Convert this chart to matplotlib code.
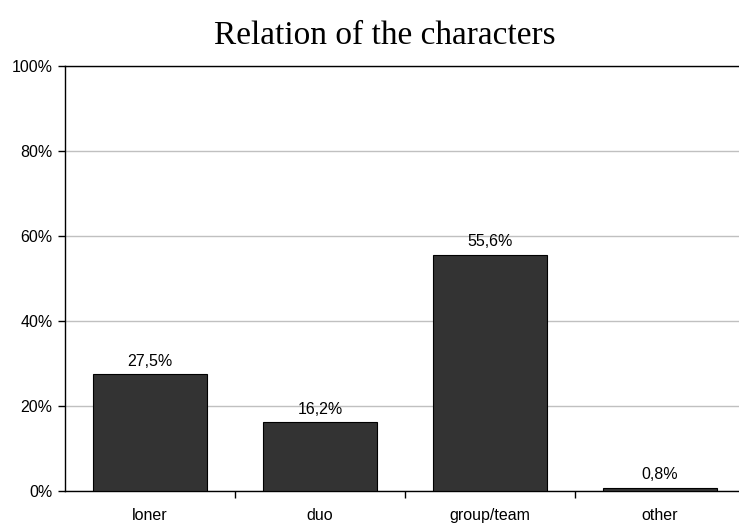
#!/usr/bin/env python3
import matplotlib
matplotlib.use('Agg')
import matplotlib.pyplot as plt
from matplotlib.ticker import FixedLocator, NullFormatter

categories = ['loner', 'duo', 'group/team', 'other']
shares = [27.5, 16.2, 55.6, 0.8]
y_ticks = [0, 20, 40, 60, 80, 100]

plt.rcParams['font.family'] = ['Liberation Sans', 'DejaVu Sans']

W, H = 739, 526
fig = plt.figure(figsize=(W / 100, H / 100), dpi=100)
# plot area runs past the right edge of the image, like the original crop
ax = fig.add_axes([65 / W, 35 / H, 680 / W, 425 / H])

x = list(range(len(categories)))
ax.bar(x, shares, width=0.67, color='#333333', edgecolor='black', linewidth=0.8, zorder=3)

for i, v in enumerate(shares):
    ax.text(i, v + 1.3, f'{v:.1f}%'.replace('.', ','), ha='center', va='bottom', fontsize=11.5)

ax.set_xlim(-0.5, len(categories) - 0.5)
ax.set_ylim(0, 100)
ax.set_yticks(y_ticks)
ax.set_yticklabels([f'{t}%' for t in y_ticks], fontsize=11.5)
ax.yaxis.grid(True, color='#c0c0c0', linewidth=1, zorder=0)

# category labels centred, tick marks on the boundaries
ax.set_xticks(x)
ax.set_xticklabels(categories, fontsize=11.5)
ax.tick_params(axis='x', length=0, pad=12)
ax.xaxis.set_minor_locator(FixedLocator([i + 0.5 for i in range(len(categories) - 1)]))
ax.xaxis.set_minor_formatter(NullFormatter())
ax.tick_params(axis='x', which='minor', length=5, width=1, direction='out')
ax.tick_params(axis='y', length=5, width=1, direction='out', pad=4)

for side in ['left', 'bottom', 'top']:
    ax.spines[side].set_color('black')
    ax.spines[side].set_linewidth(1)
ax.spines['right'].set_visible(False)

fig.text(385 / W, 1 - 36 / H, 'Relation of the characters', ha='center', va='center',
         fontsize=24, family=['Liberation Serif', 'DejaVu Serif'])

fig.savefig('out.png', dpi=100)
